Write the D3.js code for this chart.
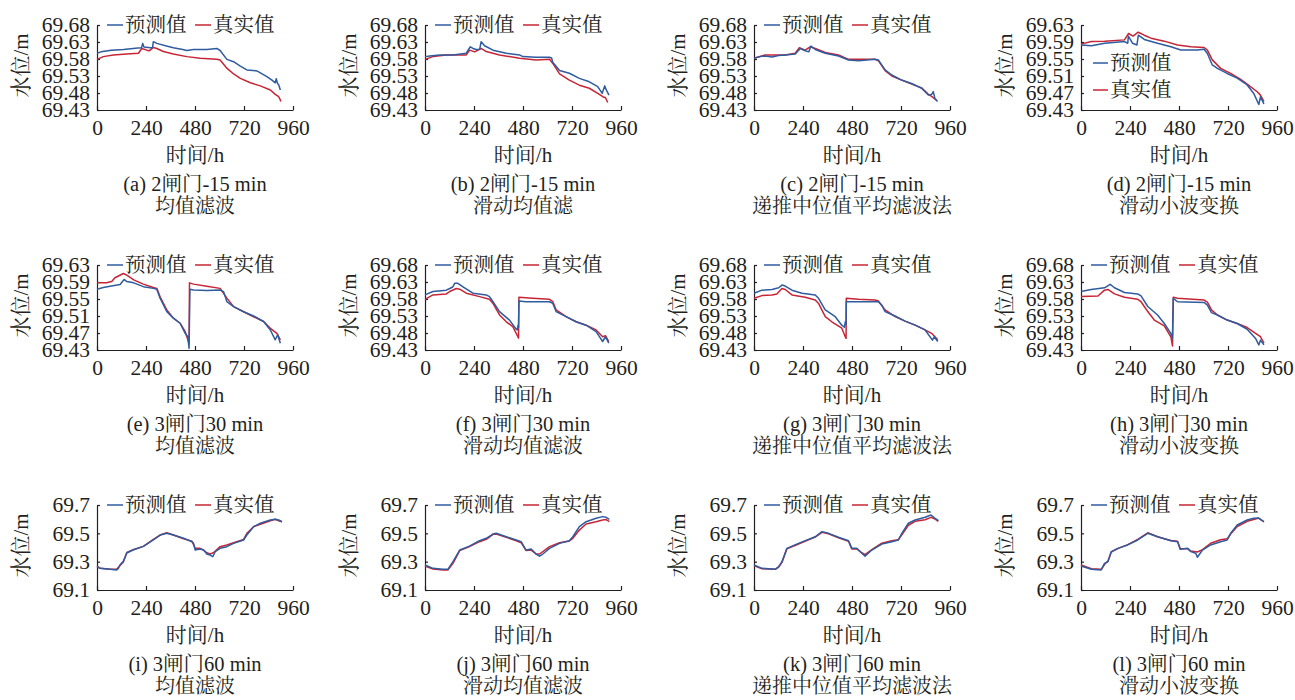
<!DOCTYPE html>
<html>
<head>
<meta charset="utf-8">
<script src="https://cdn.jsdelivr.net/npm/d3@7/dist/d3.min.js"></script>
<style>
  html, body { margin: 0; padding: 0; background: #fff; }
  svg { display: block; }
  text { font-family: "Liberation Serif", "Noto Serif CJK SC", "Noto Sans CJK SC", serif; fill: #231f20; }
</style>
</head>
<body>
<svg id="chart" width="1295" height="700"></svg>
<script>
// Hour axis ticks shared by all panels
const xTicks = [0, 240, 480, 720, 960];

// Water-level tick sets
const yTicksA = [69.43, 69.48, 69.53, 69.58, 69.63, 69.68];
const yTicksB = [69.43, 69.47, 69.51, 69.55, 69.59, 69.63];
const yTicksC = [69.1, 69.3, 69.5, 69.7];

const captionTop = [
  "(a) 2闸门-15 min", "(b) 2闸门-15 min", "(c) 2闸门-15 min", "(d) 2闸门-15 min",
  "(e) 3闸门30 min", "(f) 3闸门30 min", "(g) 3闸门30 min", "(h) 3闸门30 min",
  "(i) 3闸门60 min", "(j) 3闸门60 min", "(k) 3闸门60 min", "(l) 3闸门60 min"
];
const captionBottom = [
  "均值滤波", "滑动均值滤", "递推中位值平均滤波法", "滑动小波变换",
  "均值滤波", "滑动均值滤波", "递推中位值平均滤波法", "滑动小波变换",
  "均值滤波", "滑动均值滤波", "递推中位值平均滤波法", "滑动小波变换"
];
const legendNames = ["预测值", "真实值"];

// Series: [hour, water level (m)]
const pred_a = [[0,69.597],[20,69.601],[70,69.606],[130,69.608],[200,69.612],[218,69.613],[224,69.626],[230,69.615],[262,69.613],[272,69.614],[276,69.631],[293,69.626],[340,69.618],[374,69.613],[420,69.608],[440,69.605],[473,69.608],[538,69.608],[587,69.611],[603,69.605],[636,69.579],[669,69.572],[702,69.559],[734,69.548],[783,69.545],[832,69.528],[857,69.518],[873,69.510],[878,69.522],[884,69.508],[890,69.504],[898,69.489]];
const real_a = [[0,69.579],[31,69.587],[80,69.592],[145,69.595],[203,69.597],[219,69.611],[244,69.606],[256,69.604],[276,69.614],[293,69.611],[325,69.602],[374,69.595],[440,69.587],[505,69.582],[587,69.579],[603,69.577],[636,69.553],[669,69.536],[702,69.523],[751,69.510],[800,69.501],[849,69.489],[873,69.476],[890,69.469],[896,69.462],[901,69.455]];

const pred_b = [[0,69.587],[23,69.589],[72,69.592],[137,69.592],[202,69.597],[222,69.616],[235,69.611],[251,69.608],[268,69.609],[275,69.631],[292,69.619],[333,69.606],[398,69.597],[463,69.592],[479,69.587],[544,69.585],[610,69.585],[620,69.583],[626,69.570],[640,69.560],[659,69.546],[707,69.538],[756,69.523],[805,69.513],[846,69.499],[868,69.479],[880,69.501],[888,69.489],[901,69.474]];
const real_b = [[0,69.579],[39,69.587],[104,69.592],[202,69.592],[219,69.606],[243,69.601],[275,69.611],[300,69.602],[365,69.592],[463,69.582],[544,69.577],[610,69.579],[626,69.567],[659,69.536],[707,69.518],[756,69.503],[805,69.494],[846,69.479],[871,69.469],[884,69.466],[895,69.452]];

const pred_c = [[0,69.582],[30,69.587],[55,69.589],[88,69.586],[120,69.590],[153,69.592],[202,69.595],[227,69.611],[251,69.604],[268,69.601],[279,69.618],[300,69.608],[349,69.597],[414,69.589],[463,69.577],[512,69.575],[593,69.579],[609,69.577],[642,69.548],[675,69.533],[723,69.518],[772,69.508],[821,69.494],[854,69.474],[870,69.476],[878,69.484],[886,69.464],[899,69.455]];
const real_c = [[0,69.582],[55,69.592],[153,69.592],[202,69.597],[222,69.613],[251,69.606],[275,69.616],[300,69.611],[349,69.599],[414,69.592],[463,69.579],[528,69.579],[593,69.579],[609,69.575],[642,69.546],[675,69.530],[723,69.518],[772,69.506],[821,69.495],[854,69.476],[870,69.470],[895,69.458]];

const pred_d = [[0,69.583],[51,69.581],[116,69.587],[213,69.591],[229,69.587],[232,69.604],[253,69.587],[274,69.583],[281,69.606],[310,69.596],[375,69.587],[440,69.579],[489,69.571],[570,69.571],[603,69.573],[619,69.563],[643,69.536],[668,69.528],[716,69.516],[765,69.505],[814,69.489],[846,69.469],[871,69.443],[879,69.461],[896,69.444]];
const real_d = [[0,69.585],[51,69.591],[116,69.592],[213,69.595],[233,69.610],[255,69.604],[280,69.613],[310,69.606],[343,69.599],[408,69.592],[473,69.583],[538,69.579],[603,69.577],[619,69.571],[643,69.548],[684,69.528],[733,69.516],[782,69.502],[830,69.485],[863,69.473],[879,69.465],[896,69.450]];

const pred_e = [[0,69.573],[31,69.577],[64,69.580],[113,69.584],[133,69.596],[146,69.591],[180,69.588],[227,69.579],[276,69.575],[293,69.573],[309,69.552],[342,69.520],[374,69.505],[407,69.493],[432,69.469],[445,69.461],[451,69.434],[455,69.573],[473,69.571],[538,69.570],[603,69.571],[620,69.567],[636,69.544],[669,69.532],[718,69.520],[767,69.510],[816,69.497],[849,69.477],[873,69.454],[885,69.466],[898,69.446]];
const real_e = [[0,69.588],[47,69.588],[72,69.591],[88,69.600],[129,69.610],[146,69.606],[180,69.595],[227,69.585],[276,69.577],[293,69.575],[309,69.555],[342,69.524],[374,69.505],[407,69.493],[432,69.473],[448,69.450],[451,69.446],[453,69.588],[473,69.585],[538,69.580],[603,69.575],[636,69.552],[669,69.532],[718,69.520],[767,69.508],[816,69.497],[849,69.481],[881,69.469],[898,69.454]];

const pred_f = [[0,69.592],[39,69.602],[104,69.606],[121,69.611],[137,69.616],[145,69.626],[161,69.626],[186,69.616],[235,69.597],[300,69.592],[316,69.587],[333,69.572],[365,69.543],[414,69.518],[447,69.491],[452,69.489],[456,69.503],[458,69.496],[460,69.574],[495,69.572],[610,69.572],[626,69.567],[642,69.543],[691,69.528],[740,69.513],[789,69.503],[838,69.484],[870,69.455],[884,69.469],[900,69.450]];
const real_f = [[0,69.579],[39,69.592],[104,69.595],[121,69.602],[153,69.611],[170,69.609],[202,69.597],[267,69.587],[316,69.579],[333,69.567],[365,69.533],[398,69.513],[430,69.499],[455,69.469],[458,69.465],[460,69.585],[528,69.582],[610,69.579],[626,69.572],[642,69.548],[691,69.528],[740,69.513],[789,69.503],[838,69.489],[870,69.469],[884,69.472],[900,69.455]];

const pred_g = [[0,69.597],[39,69.606],[88,69.608],[121,69.613],[137,69.621],[153,69.618],[186,69.606],[235,69.597],[300,69.592],[316,69.582],[349,69.548],[398,69.528],[430,69.503],[443,69.497],[447,69.513],[451,69.505],[452,69.572],[480,69.572],[609,69.572],[626,69.562],[642,69.543],[691,69.530],[740,69.515],[789,69.503],[838,69.489],[874,69.459],[883,69.469],[900,69.455]];
const real_g = [[0,69.582],[39,69.590],[88,69.592],[112,69.595],[137,69.611],[153,69.608],[186,69.592],[251,69.585],[300,69.577],[316,69.567],[349,69.528],[381,69.513],[430,69.494],[447,69.469],[451,69.464],[452,69.582],[512,69.579],[593,69.577],[609,69.574],[642,69.548],[691,69.528],[740,69.515],[789,69.503],[838,69.489],[870,69.479],[900,69.460]];

const pred_h = [[0,69.602],[50,69.608],[115,69.613],[143,69.623],[164,69.613],[213,69.599],[278,69.595],[294,69.589],[327,69.558],[375,69.533],[408,69.508],[440,69.479],[448,69.464],[452,69.582],[473,69.572],[603,69.570],[619,69.562],[639,69.540],[668,69.533],[716,69.518],[765,69.508],[814,69.491],[855,69.464],[871,69.445],[879,69.459],[896,69.445]];
const real_h = [[0,69.587],[83,69.589],[115,69.606],[132,69.608],[164,69.595],[213,69.585],[278,69.579],[294,69.572],[327,69.543],[359,69.518],[408,69.501],[440,69.469],[448,69.442],[452,69.585],[473,69.582],[603,69.577],[619,69.571],[639,69.548],[668,69.533],[716,69.518],[765,69.508],[814,69.496],[855,69.479],[879,69.469],[896,69.450]];

const pred_i = [[0,69.265],[15,69.253],[64,69.246],[96,69.241],[104,69.250],[113,69.278],[129,69.302],[146,69.361],[178,69.384],[227,69.408],[276,69.453],[309,69.488],[342,69.500],[374,69.488],[424,69.465],[465,69.441],[473,69.429],[481,69.382],[505,69.389],[522,69.382],[538,69.354],[554,69.347],[567,69.335],[579,69.370],[603,69.394],[636,69.406],[669,69.429],[718,69.453],[734,69.488],[767,69.547],[800,69.571],[849,69.594],[873,69.599],[890,69.594],[906,69.582]];
const real_i = [[0,69.269],[15,69.253],[64,69.246],[96,69.246],[113,69.273],[129,69.297],[146,69.365],[178,69.384],[227,69.408],[276,69.457],[309,69.488],[342,69.504],[374,69.488],[424,69.462],[465,69.445],[481,69.394],[505,69.394],[522,69.382],[538,69.363],[554,69.354],[570,69.363],[603,69.406],[636,69.418],[669,69.434],[718,69.457],[734,69.500],[767,69.547],[800,69.564],[849,69.589],[873,69.599],[890,69.589],[906,69.582]];

const pred_j = [[0,69.276],[39,69.253],[88,69.246],[112,69.246],[121,69.265],[137,69.300],[170,69.382],[218,69.410],[267,69.448],[300,69.465],[333,69.495],[349,69.500],[398,69.476],[447,69.453],[471,69.441],[495,69.382],[520,69.389],[544,69.354],[561,69.339],[577,69.354],[610,69.394],[659,69.429],[707,69.448],[724,69.476],[756,69.547],[789,69.582],[838,69.606],[870,69.618],[887,69.613],[903,69.599]];
const real_j = [[0,69.269],[39,69.248],[88,69.241],[112,69.241],[137,69.288],[170,69.378],[218,69.406],[267,69.441],[300,69.458],[333,69.493],[349,69.495],[398,69.472],[447,69.448],[471,69.434],[495,69.378],[520,69.382],[544,69.354],[561,69.354],[610,69.406],[659,69.434],[707,69.446],[724,69.465],[756,69.523],[789,69.566],[838,69.582],[870,69.594],[887,69.597],[903,69.582]];

const pred_k = [[0,69.276],[39,69.253],[104,69.246],[121,69.265],[137,69.300],[161,69.394],[218,69.429],[267,69.457],[300,69.476],[333,69.512],[365,69.500],[414,69.472],[463,69.448],[479,69.394],[503,69.394],[528,69.359],[544,69.339],[577,69.382],[626,69.424],[675,69.441],[707,69.453],[724,69.500],[756,69.571],[789,69.594],[838,69.613],[867,69.629],[887,69.606],[903,69.589]];
const real_k = [[0,69.272],[39,69.250],[104,69.246],[121,69.262],[137,69.295],[161,69.390],[218,69.425],[267,69.455],[300,69.474],[333,69.507],[365,69.497],[414,69.468],[463,69.444],[479,69.390],[503,69.392],[528,69.363],[544,69.350],[577,69.385],[626,69.430],[675,69.448],[707,69.455],[724,69.490],[756,69.557],[789,69.585],[838,69.596],[867,69.613],[887,69.600],[903,69.585]];

const pred_l = [[0,69.269],[51,69.246],[99,69.241],[115,69.288],[132,69.300],[148,69.371],[180,69.394],[229,69.418],[278,69.453],[327,69.500],[375,69.476],[440,69.448],[473,69.441],[486,69.387],[522,69.394],[538,69.371],[562,69.359],[570,69.331],[595,69.382],[635,69.418],[684,69.441],[716,69.453],[733,69.500],[765,69.559],[814,69.594],[846,69.606],[870,69.608],[896,69.582]];
const real_l = [[0,69.276],[51,69.250],[99,69.246],[115,69.280],[132,69.305],[148,69.367],[180,69.392],[229,69.420],[278,69.457],[327,69.504],[375,69.476],[440,69.450],[473,69.445],[486,69.392],[522,69.392],[538,69.375],[570,69.368],[595,69.385],[635,69.430],[684,69.455],[716,69.462],[733,69.495],[765,69.548],[814,69.585],[846,69.597],[870,69.608],[896,69.580]];

// Panel table built from the arrays above
const panels = [
  { pred: pred_a, real: real_a, ticks: yTicksA, fmt: ".2f", legend: "top" },
  { pred: pred_b, real: real_b, ticks: yTicksA, fmt: ".2f", legend: "top" },
  { pred: pred_c, real: real_c, ticks: yTicksA, fmt: ".2f", legend: "top" },
  { pred: pred_d, real: real_d, ticks: yTicksB, fmt: ".2f", legend: "inside" },
  { pred: pred_e, real: real_e, ticks: yTicksB, fmt: ".2f", legend: "top" },
  { pred: pred_f, real: real_f, ticks: yTicksA, fmt: ".2f", legend: "top" },
  { pred: pred_g, real: real_g, ticks: yTicksA, fmt: ".2f", legend: "top" },
  { pred: pred_h, real: real_h, ticks: yTicksA, fmt: ".2f", legend: "top" },
  { pred: pred_i, real: real_i, ticks: yTicksC, fmt: ".1f", legend: "top" },
  { pred: pred_j, real: real_j, ticks: yTicksC, fmt: ".1f", legend: "top" },
  { pred: pred_k, real: real_k, ticks: yTicksC, fmt: ".1f", legend: "top" },
  { pred: pred_l, real: real_l, ticks: yTicksC, fmt: ".1f", legend: "top" }
];

const colX = [97, 425, 754, 1081];
const rowY = [25, 265, 505];
const plotW = 196, plotH = 85;
const blue = "#2f5b9f", red = "#c72535", ink = "#231f20";

const svg = d3.select("#chart");

panels.forEach((p, i) => {
  const col = i % 4, row = Math.floor(i / 4);
  const g = svg.append("g").attr("transform", `translate(${colX[col]},${rowY[row]})`);

  const x = d3.scaleLinear().domain([0, 960]).range([0, plotW]);
  const y = d3.scaleLinear().domain([p.ticks[0], p.ticks[p.ticks.length - 1]]).range([plotH, 0]);

  // x axis
  const xa = g.append("g").attr("transform", `translate(0,${plotH})`)
    .call(d3.axisBottom(x).tickValues(xTicks).tickSizeInner(-4).tickSizeOuter(0).tickPadding(10).tickFormat(d3.format("d")));
  xa.select(".domain").attr("stroke", ink).attr("stroke-width", 1.2);
  xa.selectAll(".tick line").attr("stroke", ink).attr("stroke-width", 1.2);
  xa.selectAll(".tick text").attr("font-size", 21.5).attr("fill", ink)
    .attr("font-family", "Liberation Serif");

  // y axis
  const ya = g.append("g")
    .call(d3.axisLeft(y).tickValues(p.ticks).tickSizeInner(-3).tickSizeOuter(0).tickPadding(7).tickFormat(d3.format(p.fmt)));
  ya.select(".domain").attr("stroke", ink).attr("stroke-width", 1.2);
  ya.selectAll(".tick line").attr("stroke", ink).attr("stroke-width", 1.2);
  ya.selectAll(".tick text").attr("font-size", 21.5).attr("fill", ink)
    .attr("font-family", "Liberation Serif");

  // series
  const line = d3.line().x(d => x(d[0])).y(d => y(d[1]));
  g.append("path").datum(p.real).attr("d", line)
    .attr("fill", "none").attr("stroke", red).attr("stroke-width", 1.5).attr("stroke-linejoin", "round");
  g.append("path").datum(p.pred).attr("d", line)
    .attr("fill", "none").attr("stroke", blue).attr("stroke-width", 1.5).attr("stroke-linejoin", "round");

  // y title
  g.append("text")
    .attr("transform", `translate(-76,${plotH / 2 - 2}) rotate(-90)`)
    .attr("text-anchor", "middle").attr("dominant-baseline", "central")
    .attr("font-size", 21).text("水位/m");

  // x title
  g.append("text").attr("x", plotW / 2).attr("y", plotH + 45)
    .attr("text-anchor", "middle").attr("dominant-baseline", "central")
    .attr("font-size", 21).text("时间/h");

  // captions
  g.append("text").attr("x", plotW / 2).attr("y", plotH + 74)
    .attr("text-anchor", "middle").attr("dominant-baseline", "central")
    .attr("font-size", 20.5).text(captionTop[i]);
  g.append("text").attr("x", plotW / 2).attr("y", plotH + 96)
    .attr("text-anchor", "middle").attr("dominant-baseline", "central")
    .attr("font-size", 20).text(captionBottom[i]);

  // legend
  const colors = [blue, red];
  if (p.legend === "top") {
    const lg = g.append("g").attr("transform", "translate(10,0)");
    const starts = [0, 88];
    legendNames.forEach((name, k) => {
      const s = starts[k];
      lg.append("line").attr("x1", s).attr("x2", s + 16).attr("y1", 0).attr("y2", 0)
        .attr("stroke", colors[k]).attr("stroke-width", 1.5);
      lg.append("text").attr("x", s + 18).attr("y", 0).attr("dominant-baseline", "central")
        .attr("font-size", 20.5).text(name);
    });
  } else {
    const lg = g.append("g").attr("transform", "translate(12,0)");
    const rows = [38, 65];
    legendNames.forEach((name, k) => {
      lg.append("line").attr("x1", 0).attr("x2", 15).attr("y1", rows[k]).attr("y2", rows[k])
        .attr("stroke", colors[k]).attr("stroke-width", 1.5);
      lg.append("text").attr("x", 17).attr("y", rows[k]).attr("dominant-baseline", "central")
        .attr("font-size", 20.5).text(name);
    });
  }
});
</script>
</body>
</html>
